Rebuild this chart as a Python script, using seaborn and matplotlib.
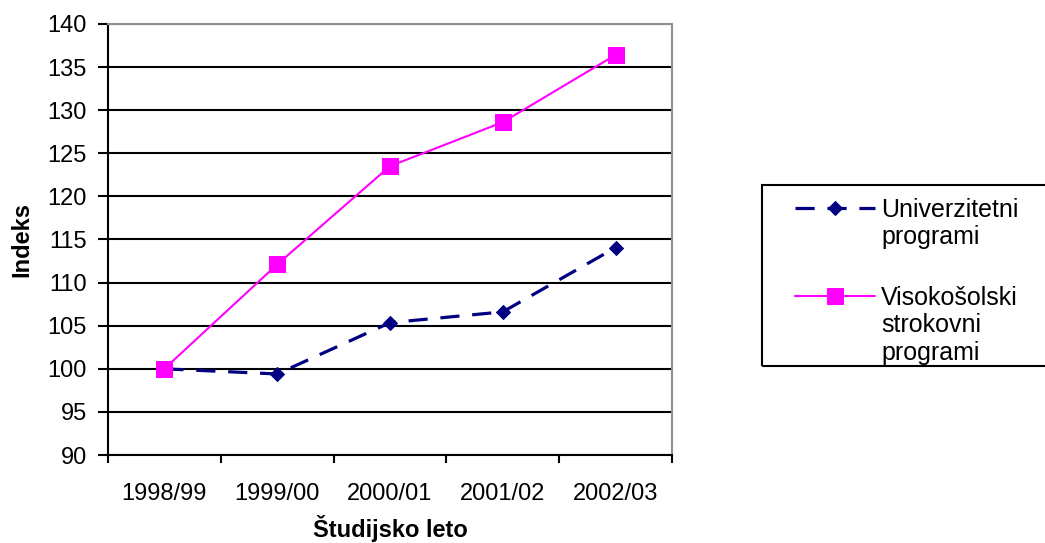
import pandas as pd
import matplotlib.pyplot as plt
import seaborn as sns
from matplotlib.ticker import FixedLocator
from matplotlib.patches import Rectangle

# ==========================================
# DATA
# ==========================================
years = ["1998/99", "1999/00", "2000/01", "2001/02", "2002/03"]
univerzitetni = [100, 99.4, 105.35, 106.6, 114.05]
visokosolski = [100, 112.1, 123.5, 128.6, 136.4]

label_uni = "Univerzitetni\nprogrami"
label_vs = "Visokošolski\nstrokovni\nprogrami"

df = pd.DataFrame({"leto": years, "uni": univerzitetni, "vs": visokosolski})

# ==========================================
# PLOT
# ==========================================
sns.set_theme(style="white")
plt.rcParams['font.family'] = ['Liberation Sans', 'DejaVu Sans']
plt.rcParams['text.color'] = "black"

fig = plt.figure(figsize=(10.45, 5.43), dpi=100)
ax = fig.add_axes([0.1033, 0.162, 0.5397, 0.794])

sns.lineplot(x="leto", y="uni", data=df, ax=ax,
             color="#000080", linewidth=2.3, marker="D", markersize=7,
             markeredgecolor="#000080", sort=False, label=label_uni)
ax.lines[-1].set_dashes([6, 4])

sns.lineplot(x="leto", y="vs", data=df, ax=ax,
             color="#FF00FF", linewidth=1.5, marker="s", markersize=12,
             markeredgecolor="#FF00FF", sort=False, label=label_vs)

ax.set_ylim(90, 140)
ax.set_xlim(-0.5, 4.5)
ax.set_yticks(range(90, 141, 5))
ax.yaxis.grid(True, color="black", linewidth=1.5)
ax.set_axisbelow(True)

ax.xaxis.set_minor_locator(FixedLocator([i - 0.5 for i in range(6)]))
ax.tick_params(axis="x", which="major", length=0, labelsize=17, pad=20,
               labelcolor="black")
ax.tick_params(axis="x", which="minor", bottom=True, length=6, width=1.5, color="black")
ax.tick_params(axis="y", which="major", left=True, length=7, width=1.5, labelsize=17,
               pad=8, color="black", labelcolor="black")

for s in ["left", "bottom"]:
    ax.spines[s].set_color("black")
    ax.spines[s].set_linewidth(1.5)
for s in ["top", "right"]:
    ax.spines[s].set_color("#909090")
    ax.spines[s].set_linewidth(1.5)

ax.set_xlabel("Študijsko leto", fontsize=17, fontweight="bold", labelpad=7, color="black")
ax.set_ylabel("Indeks", fontsize=17, fontweight="bold", labelpad=10, color="black")

# legend without its own frame, box drawn like the original (runs off the right edge)
leg = ax.legend(loc="upper left", bbox_to_anchor=(0.742, 0.673),
                bbox_transform=fig.transFigure, fontsize=18, frameon=False,
                handlelength=3.2, handleheight=1.2, borderpad=0.3,
                labelspacing=1.45, handletextpad=0.24)
for col in leg._legend_handle_box.get_children():
    for item in col.get_children():
        item.align = "top"

fig.patches.append(Rectangle((762 / 1045, 1 - 366 / 543), 0.3, 181 / 543,
                             transform=fig.transFigure, fill=False,
                             edgecolor="black", linewidth=1.5, clip_on=False))

plt.savefig("out.png", dpi=100)
